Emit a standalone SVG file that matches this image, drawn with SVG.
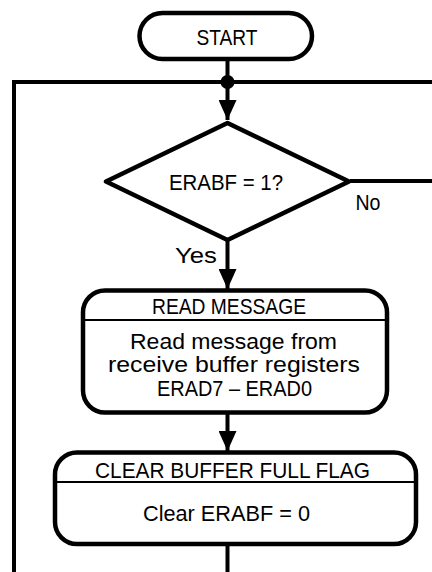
<svg xmlns="http://www.w3.org/2000/svg" width="432" height="572" viewBox="0 0 432 572">
<style>
.shape{fill:#fff;stroke:#000;stroke-width:4.5;stroke-linejoin:round}
.div{stroke:#000;stroke-width:2;fill:none}
.line{stroke:#000;stroke-width:4;fill:none}
text{font-family:"Liberation Sans",Arial,sans-serif;font-size:22.5px;fill:#000;text-anchor:middle}
</style>
<defs>
<marker id="arr" markerUnits="userSpaceOnUse" markerWidth="22" markerHeight="18" refX="20" refY="9" orient="auto">
<path d="M0,0 L20,9 L0,18 Z" fill="#000"/>
</marker>
</defs>
<g id="connectors">
<path class="line" d="M227.5,59 V82"/>
<path class="line" d="M14,572 V82 H432"/>
<circle cx="227.5" cy="82" r="7" fill="#000"/>
<path class="line" d="M227.5,82 V120" marker-end="url(#arr)"/>
<path class="line" d="M350,181 H432"/>
<path class="line" d="M227.5,240 V289" marker-end="url(#arr)"/>
<path class="line" d="M227.5,413 V451" marker-end="url(#arr)"/>
<path class="line" d="M227.5,544 V572"/>
<text x="368" y="210" textLength="25" lengthAdjust="spacingAndGlyphs">No</text>
<text x="196" y="263" textLength="42" lengthAdjust="spacingAndGlyphs">Yes</text>
</g>
<g id="start">
<rect class="shape" x="139.5" y="13" width="172.5" height="46" rx="23"/>
<text x="227" y="45" textLength="61" lengthAdjust="spacingAndGlyphs">START</text>
</g>
<g id="decision">
<polygon class="shape" points="227.5,123 349,181.5 227.5,240 106,181.5"/>
<text x="226" y="190" textLength="114" lengthAdjust="spacingAndGlyphs">ERABF = 1?</text>
</g>
<g id="read">
<rect class="shape" x="83" y="290.5" width="304" height="122" rx="22"/>
<line class="div" x1="83" y1="320" x2="387" y2="320"/>
<text x="229" y="314" textLength="154" lengthAdjust="spacingAndGlyphs">READ MESSAGE</text>
<text x="233.5" y="349" textLength="207" lengthAdjust="spacingAndGlyphs">Read message from</text>
<text x="234" y="372" textLength="252" lengthAdjust="spacingAndGlyphs">receive buffer registers</text>
<text x="234.5" y="396" textLength="155" lengthAdjust="spacingAndGlyphs">ERAD7 – ERAD0</text>
</g>
<g id="clear">
<rect class="shape" x="55" y="452.5" width="361" height="91.5" rx="22"/>
<line class="div" x1="55" y1="482" x2="416" y2="482"/>
<text x="232.5" y="478" textLength="275" lengthAdjust="spacingAndGlyphs">CLEAR BUFFER FULL FLAG</text>
<text x="226.5" y="521" textLength="167" lengthAdjust="spacingAndGlyphs">Clear ERABF = 0</text>
</g>
</svg>
